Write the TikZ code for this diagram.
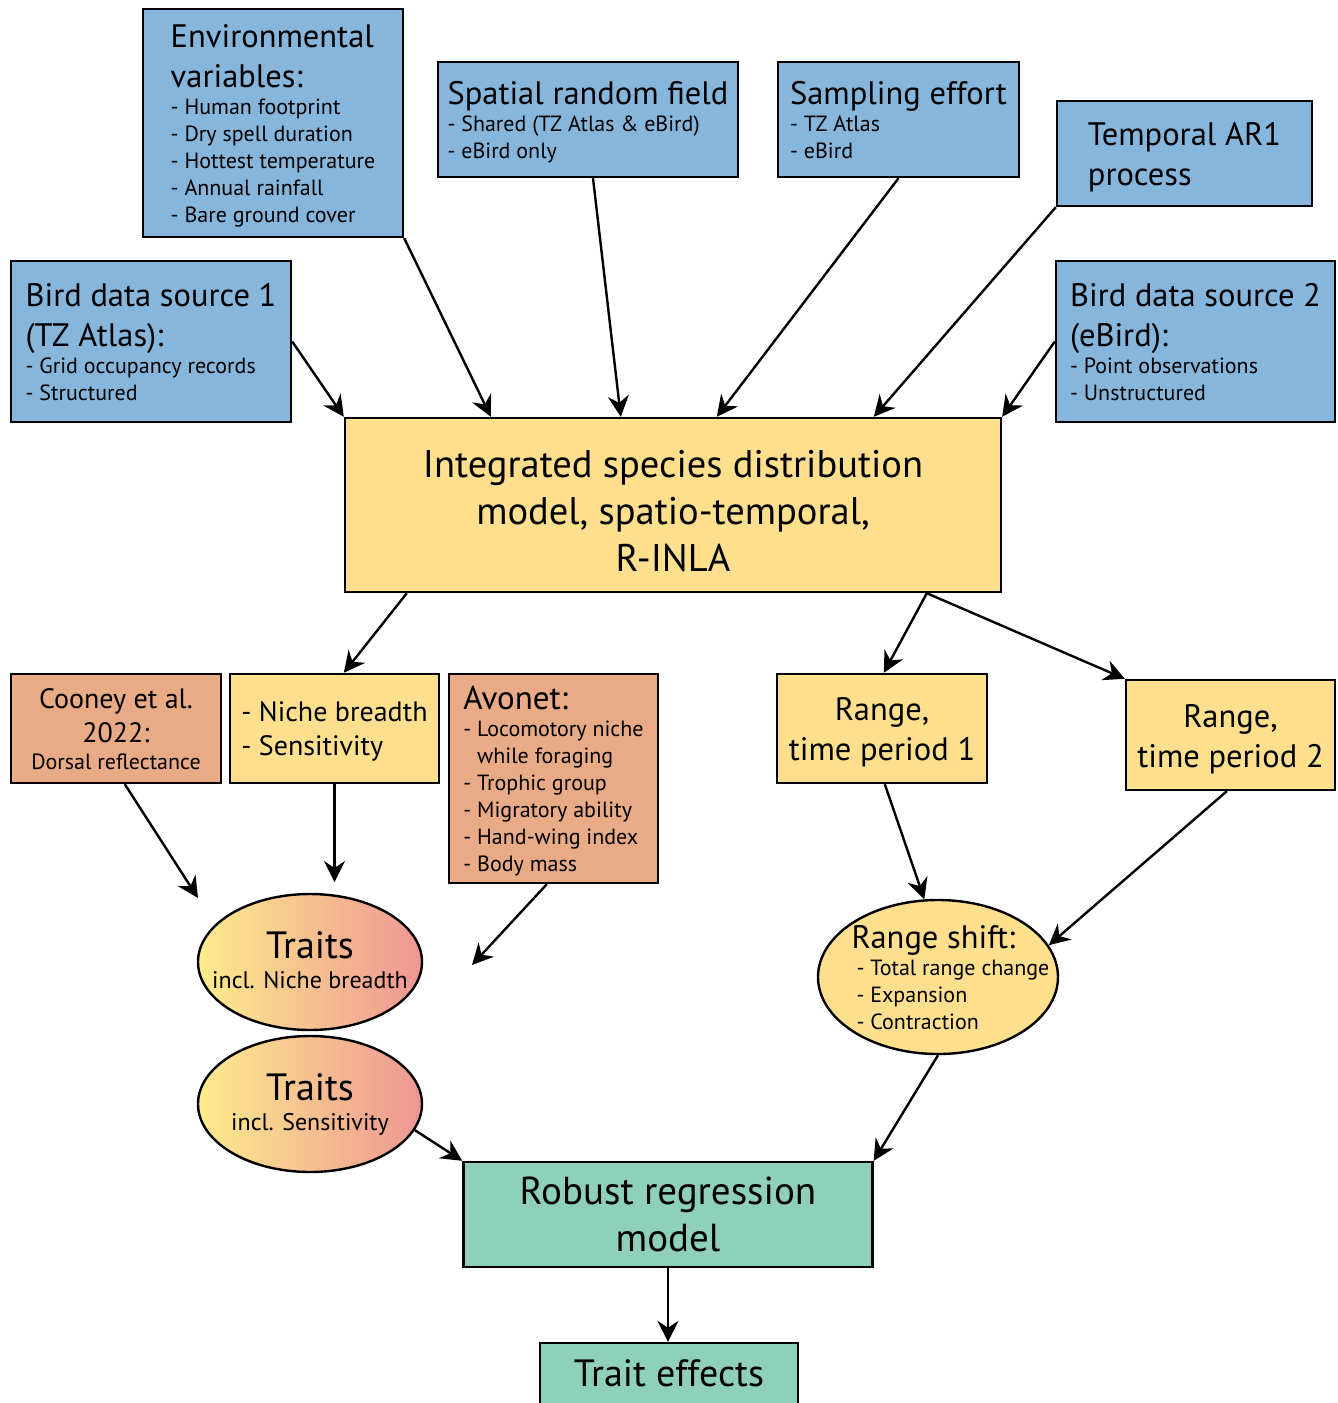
\documentclass[tikz,border=0pt]{standalone}
\usepackage{fontspec}
\setmainfont{PT Sans}
\usetikzlibrary{arrows.meta,shapes.geometric}

\definecolor{srcblue}{RGB}{134,182,219}
\definecolor{mdlyellow}{RGB}{253,223,142}
\definecolor{trtorange}{RGB}{232,171,133}
\definecolor{regteal}{RGB}{143,208,186}
\definecolor{grdyellow}{RGB}{253,236,140}
\definecolor{grdpink}{RGB}{238,150,148}

% one line of text: font size, strut height, strut depth, text
\newcommand{\boxline}[4]{{\fontsize{#1}{#1}\selectfont\vrule height#2pt depth#3pt width0pt\relax#4}}
\newcommand{\boxhead}[1]{\boxline{32.5}{32}{8}{#1}}
\newcommand{\boxitem}[1]{\boxline{22}{19}{8}{- #1}}
\newcommand{\bigline}[1]{\boxline{38.5}{37}{10}{#1}}

\tikzset{
  blk/.style={draw=black, line width=2.4pt, inner sep=0pt,
    font=\fontsize{21}{1}\selectfont},
  srcbox/.style={blk, fill=srcblue, align=left},
  mdlbox/.style={blk, fill=mdlyellow, align=center},
  trtbox/.style={blk, fill=trtorange, align=center},
  regbox/.style={blk, fill=regteal, align=center},
  trtoval/.style={blk, ellipse, inner sep=-40pt, left color=grdyellow,
    right color=grdpink, minimum width=224pt, minimum height=136pt, align=center},
  arr/.style={->, line width=2.4pt}
}

\begin{document}
\lineskip=0pt\lineskiplimit=0pt
\begin{tikzpicture}[x=1pt,y=-1pt,>={Stealth[length=21pt,width=21pt,inset=7pt]}]
  \useasboundingbox (0,0) rectangle (1338,1403);

  % data sources
  \node[srcbox, minimum width=260pt, minimum height=228pt] (env) at (273,123)
    {\boxhead{Environmental}\\\boxhead{variables:}\\\boxitem{Human footprint}\\
     \boxitem{Dry spell duration}\\\boxitem{Hottest temperature}\\
     \boxitem{Annual rainfall}\\\boxitem{Bare ground cover}};
  \node[srcbox, minimum width=300pt, minimum height=115pt] (spatial) at (588,119.5)
    {\boxhead{Spatial random field}\\\boxitem{Shared (TZ Atlas \& eBird)}\\
     \boxitem{eBird only}};
  \node[srcbox, minimum width=241pt, minimum height=115pt] (sampling) at (898.5,119.5)
    {\boxhead{Sampling effort}\\\boxitem{TZ Atlas}\\\boxitem{eBird}};
  \node[srcbox, minimum width=255pt, minimum height=105pt] (temporal) at (1184.5,153.5)
    {\boxhead{Temporal AR1}\\\boxhead{process}};
  \node[srcbox, minimum width=280pt, minimum height=161pt] (birdA) at (151,341.5)
    {\boxhead{Bird data source 1}\\\boxhead{(TZ Atlas):}\\
     \boxitem{Grid occupancy records}\\\boxitem{Structured}};
  \node[srcbox, minimum width=279pt, minimum height=161pt] (birdB) at (1195.5,341.5)
    {\boxhead{Bird data source 2}\\\boxhead{(eBird):}\\
     \boxitem{Point observations}\\\boxitem{Unstructured}};

  % model
  \node[mdlbox, minimum width=656pt, minimum height=174pt] (isdm) at (673,505)
    {\boxline{38.5}{49}{10}{Integrated species distribution}\\
     \bigline{model, spatio-temporal,}\\\bigline{R-INLA}};

  % traits and ranges
  \node[trtbox, minimum width=210pt, minimum height=109pt] (cooney) at (116,728.5)
    {\boxline{28}{27}{7}{Cooney et al.}\\\boxline{28}{27}{7}{2022:}\\
     \boxline{22}{20}{7}{Dorsal reflectance}};
  \node[mdlbox, align=left, minimum width=209pt, minimum height=109pt] (niche) at (334.5,728.5)
    {\boxline{28}{27}{7}{- Niche breadth}\\\boxline{28}{27}{7}{- Sensitivity}};
  \node[trtbox, align=left, minimum width=209pt, minimum height=209pt] (avonet) at (553.5,778.5)
    {\boxline{33}{32}{8}{Avonet:}\\\boxitem{Locomotory niche}\\
     \boxline{22}{19}{8}{\phantom{- }while foraging}\\\boxitem{Trophic group}\\
     \boxitem{Migratory ability}\\\boxitem{Hand-wing index}\\
     \boxitem{Body mass}};
  \node[mdlbox, minimum width=210pt, minimum height=109pt] (rangeA) at (882,728.5)
    {\boxhead{Range,}\\\boxhead{time period 1}};
  \node[mdlbox, minimum width=209pt, minimum height=110pt] (rangeB) at (1230.5,735)
    {\boxhead{Range,}\\\boxhead{time period 2}};

  \node[trtoval] (traitsA) at (310,962)
    {\boxline{38}{30}{8}{Traits}\\\boxline{24}{22}{8}{incl. Niche breadth}};
  \node[trtoval] (traitsB) at (310,1104)
    {\boxline{38}{30}{8}{Traits}\\\boxline{24}{22}{8}{incl. Sensitivity}};
  \node[blk, ellipse, fill=mdlyellow, inner sep=-40pt, minimum width=240pt,
    minimum height=154pt, align=left] (shift) at (938,977)
    {\hspace*{25pt}\boxhead{Range shift:}\\\hspace*{30pt}\boxitem{Total range change}\\
     \hspace*{30pt}\boxitem{Expansion}\\\hspace*{30pt}\boxitem{Contraction}};

  % regression
  \node[regbox, minimum width=409pt, minimum height=105pt] (robust) at (668,1214.5)
    {\boxline{39}{37}{10}{Robust regression}\\\boxline{39}{37}{10}{model}};
  \node[regbox, minimum width=258pt, minimum height=80pt] (effects) at (669,1383)
    {\boxline{38}{37}{30}{Trait effects}};

  \coordinate (cooneyend) at (198,898);
  \coordinate (nicheend) at (334.5,882);
  \coordinate (avonetend) at (472,965);

  % connectors
  \draw[arr] (birdA.east) -- (isdm.north west);
  \draw[arr] (env.south east) -- ([xshift=147pt]isdm.north west);
  \draw[arr] ([xshift=5pt]spatial.south) -- ([xshift=277pt]isdm.north west);
  \draw[arr] (sampling.south) -- ([xshift=373pt]isdm.north west);
  \draw[arr] (temporal.south west) -- ([xshift=530pt]isdm.north west);
  \draw[arr] (birdB.west) -- (isdm.north east);

  \draw[arr] ([xshift=63pt]isdm.south west) -- ([xshift=115pt]niche.north west);
  \draw[arr] ([xshift=583pt]isdm.south west) -- ([xshift=108pt]rangeA.north west);
  \draw[arr] ([xshift=583pt]isdm.south west) -- (rangeB.north west);

  \draw[arr] ([xshift=115pt]cooney.south west) -- (cooneyend);
  \draw[arr] (niche.south) -- (nicheend);
  \draw[arr] ([xshift=99pt]avonet.south west) -- (avonetend);
  \draw[arr] ([xshift=109pt]rangeA.south west) -- (shift.100);
  \draw[arr] ([xshift=102pt]rangeB.south west) -- (shift.16);

  \draw[arr] (shift.south) -- (robust.north east);
  \draw[arr] (traitsB.-14) -- (robust.north west);
  \draw[arr] (robust.south) -- (robust.south |- effects.north);

\end{tikzpicture}
\end{document}
